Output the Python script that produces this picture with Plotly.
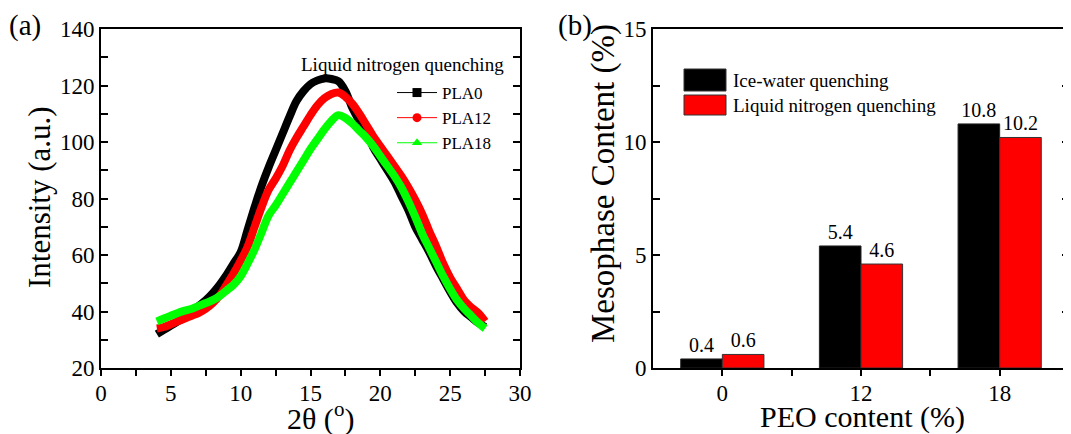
import plotly.graph_objects as go

# (a) XRD curves, liquid nitrogen quenched samples
two_theta = [4, 4.5, 5, 5.5, 6, 6.5, 7, 7.5, 8, 8.5, 9, 9.5, 10, 10.5, 11, 11.5, 12, 12.5, 13, 13.5,
             14, 14.5, 15, 15.5, 16, 16.5, 17, 17.5, 18, 18.5, 19, 19.5, 20, 20.5, 21, 21.5, 22, 22.5,
             23, 23.5, 24, 24.5, 25, 25.5, 26, 26.5, 27, 27.5]
pla0 = [32, 33.5, 35, 36.5, 38, 40, 42, 44, 46.5, 49.5, 53, 57, 61, 69, 77, 84.5, 91, 97, 103, 109,
        114.5, 118, 120.5, 121.8, 122.5, 122.3, 121.5, 118, 112, 107.5, 104, 98, 94, 90, 86, 81, 76, 70,
        65.5, 61, 56, 51.5, 47, 43, 40, 38, 36, 34.5]
pla12 = [34, 34.5, 35.5, 36.5, 37.5, 38.5, 39.5, 41, 43, 45.7, 49.5, 53.5, 58, 63, 70, 77, 83, 87, 91.5, 97,
         101.5, 105.5, 109.5, 113, 115.5, 117, 117.5, 116, 113.5, 110, 106, 102, 98.5, 95, 91.5, 88, 84, 79.5,
         74.5, 68.5, 63, 57, 52, 48, 44, 41.5, 39.5, 36.5]
pla18 = [36.5, 37.5, 38.5, 39.5, 40.3, 41, 42, 43, 44, 45.5, 47.5, 49.5, 52.5, 57, 62, 68, 74, 77.5, 81.5, 85.5,
         89.5, 93.5, 97.5, 101, 104.5, 107.5, 109.5, 108.5, 106.5, 104, 101.5, 98.5, 95, 91.5, 88, 84, 79, 73.5,
         67.5, 62.5, 57.5, 52.5, 48, 44, 41, 38.5, 36, 34]

# (b) mesophase content
peo_labels = ['0', '12', '18']
peo_pos = [1, 2, 3]
ice_water = [0.4, 5.4, 10.8]
liquid_n2 = [0.6, 4.6, 10.2]

FONT = 'Liberation Serif, Times New Roman, serif'
GREEN = '#00FF00'
RED = '#FF0000'

# the page body has an 8px margin, so work in screen pixels and shift
OFF = 8
W, H = 1071 - OFF, 434 - OFF


def px(x):
    return (x - OFF) / W


def py(y):
    return 1 - (y - OFF) / H


fig = go.Figure()

curves = [('PLA0', pla0, 'black', 'square'),
          ('PLA12', pla12, RED, 'circle'),
          ('PLA18', pla18, GREEN, 'triangle-up')]
for name, vals, col, sym in curves:
    fig.add_trace(go.Scatter(x=two_theta, y=vals, mode='lines', line=dict(color=col, width=8, shape='spline'),
                             showlegend=False, xaxis='x', yaxis='y'))
# legend entries for panel (a)
for name, vals, col, sym in curves:
    fig.add_trace(go.Scatter(x=[None], y=[None], mode='lines+markers', name=name,
                             line=dict(color=col, width=1), marker=dict(symbol=sym, size=9, color=col),
                             xaxis='x', yaxis='y'))

fig.add_trace(go.Bar(x=peo_pos, y=ice_water, width=0.3, offset=-0.3, name='Ice-water quenching',
                     marker=dict(color='black', line=dict(color='#222222', width=1)),
                     text=[str(v) for v in ice_water], textposition='outside', cliponaxis=False,
                     constraintext='none', textfont=dict(family=FONT, size=20, color='black'),
                     showlegend=False, xaxis='x2', yaxis='y2'))
fig.add_trace(go.Bar(x=peo_pos, y=liquid_n2, width=0.3, offset=0, name='Liquid nitrogen quenching',
                     marker=dict(color=RED, line=dict(color='#333333', width=1)),
                     text=[str(v) for v in liquid_n2], textposition='outside', cliponaxis=False,
                     constraintext='none', textfont=dict(family=FONT, size=20, color='black'),
                     showlegend=False, xaxis='x2', yaxis='y2'))

ydom = [py(368), py(29)]
dom_a = [px(101), px(520)]
dom_b = [px(653), px(1069)]

axis_common = dict(showline=True, linecolor='black', linewidth=2, showgrid=False, zeroline=False,
                   automargin=False,
                   tickfont=dict(family=FONT, size=23, color='black'), tickcolor='black', tickwidth=2)
top_common = dict(showline=False, showgrid=False, zeroline=False, showticklabels=False, automargin=False,
                  ticks='inside', ticklen=7, tickwidth=2, tickcolor='black')

fig.update_layout(
    width=W, height=H, margin=dict(l=0, r=0, t=0, b=0, autoexpand=False),
    paper_bgcolor='white', plot_bgcolor='white', barmode='overlay',
    font=dict(family=FONT, color='black'),
    xaxis=dict(axis_common, domain=dom_a, anchor='y', range=[0, 30], tickvals=list(range(0, 31, 5)),
               ticks='outside', ticklen=6, mirror=True, ticklabelstandoff=-3,
               minor=dict(tickvals=[2.5, 7.5, 12.5, 17.5, 22.5, 27.5], ticks='outside', ticklen=6,
                          tickwidth=2, tickcolor='black')),
    yaxis=dict(axis_common, domain=ydom, anchor='x', range=[20, 140], tickvals=list(range(20, 141, 20)),
               ticks='inside', ticklen=7, mirror='ticks',
               minor=dict(dtick=10, tick0=0, ticks='inside', ticklen=7, tickwidth=2, tickcolor='black')),
    xaxis3=dict(top_common, overlaying='x', side='top', anchor='y', range=[0, 30],
                tickvals=list(range(0, 31, 5)),
                minor=dict(tickvals=[2.5, 7.5, 12.5, 17.5, 22.5, 27.5], ticks='inside', ticklen=7,
                           tickwidth=2, tickcolor='black')),
    xaxis2=dict(axis_common, domain=dom_b, anchor='y2', range=[0.5, 3.5], tickvals=peo_pos,
                ticktext=peo_labels, ticks='outside', ticklen=6, mirror=True, ticklabelstandoff=-3,
                minor=dict(tickvals=[1.5, 2.5], ticks='outside', ticklen=6, tickwidth=2, tickcolor='black')),
    yaxis2=dict(axis_common, domain=ydom, anchor='x2', range=[0, 15], tickvals=[0, 5, 10, 15],
                ticks='inside', ticklen=7, mirror='ticks',
                minor=dict(dtick=2.5, tick0=0, ticks='inside', ticklen=7, tickwidth=2, tickcolor='black')),
    xaxis4=dict(top_common, overlaying='x2', side='top', anchor='y2', range=[0.5, 3.5],
                tickvals=peo_pos,
                minor=dict(tickvals=[1.5, 2.5], ticks='inside', ticklen=7, tickwidth=2, tickcolor='black')),
    legend=dict(x=px(392), y=py(75), xanchor='left', yanchor='top', bgcolor='rgba(0,0,0,0)',
                font=dict(family=FONT, size=17, color='black'), tracegroupgap=0, itemwidth=40),
)


def label(text, x, y, size, angle=0, xanchor='center'):
    fig.add_annotation(text=text, x=px(x), y=py(y), xref='paper', yref='paper', xanchor=xanchor,
                       yanchor='middle', textangle=angle, showarrow=False,
                       font=dict(family=FONT, size=size, color='black'))


label('(a)', 25, 25, 29)
label('(b)', 575, 25, 29)
label('Liquid nitrogen quenching', 506, 64, 19, xanchor='right')
label('Intensity (a.u.)', 39, 197, 31, angle=-90)
label('2θ (<sup>o</sup>)', 320, 416, 30)
label('Mesophase Content (%)', 603, 184, 33, angle=-90)
label('PEO content (%)', 862, 417, 30)

# legend for panel (b)
bar_legend = [('Ice-water quenching', 'black', 69, 91), ('Liquid nitrogen quenching', RED, 95, 115)]
for text, col, top, bot in bar_legend:
    fig.add_shape(type='rect', xref='paper', yref='paper', x0=px(684), x1=px(726),
                  y0=py(bot), y1=py(top), fillcolor=col, line=dict(color='#333333', width=1))
    label(text, 731, (top + bot) / 2, 19, xanchor='left')

fig.write_html('out.html')
